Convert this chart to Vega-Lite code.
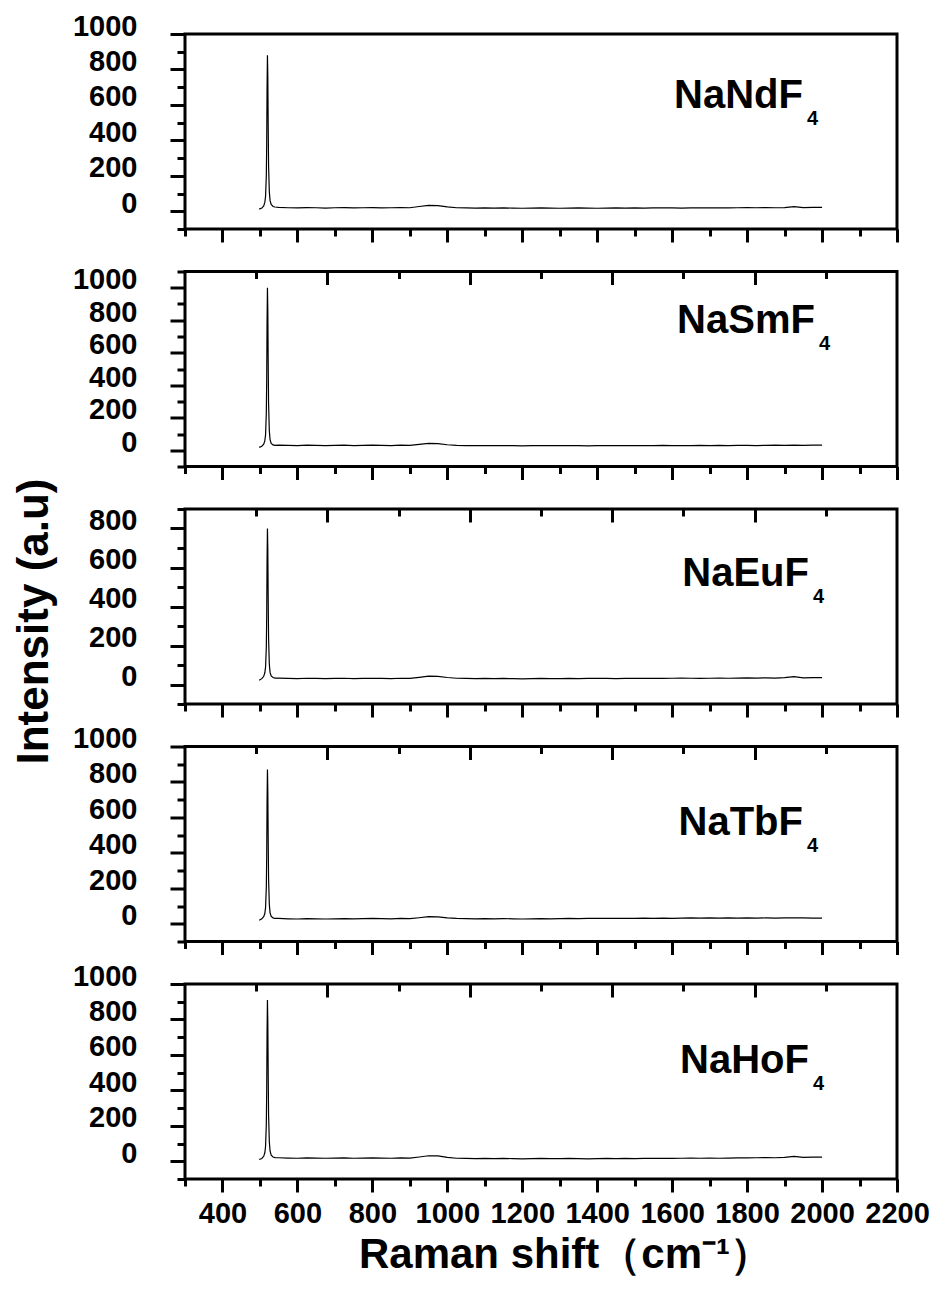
{
"$schema": "https://vega.github.io/schema/vega-lite/v6.json",
"background": "white",
"padding": {"left": 12, "top": 10, "right": 4, "bottom": 5},
"bounds": "flush",
"spacing": 42.5,
"title": {"text": "Intensity (a.u)", "orient": "left", "anchor": "middle", "font": "Liberation Sans", "fontSize": 44, "fontWeight": "bold", "color": "black", "offset": 14, "dx": 22},
"config": {
  "font": "Liberation Sans",
  "view": {"stroke": "black", "strokeWidth": 3},
  "axis": {"domain": false, "grid": false, "tickColor": "black", "tickWidth": 3, "labelColor": "black", "labelFont": "Liberation Sans", "labelFontWeight": "bold", "labelOverlap": false, "labelFlush": false, "labelBound": false}
},
"datasets": {
"nd": [
{"shift":498,"intensity":12},{"shift":505,"intensity":18},{"shift":510,"intensity":30},{"shift":513,"intensity":50},{"shift":515,"intensity":85},{"shift":517,"intensity":200},{"shift":518,"intensity":380},{"shift":519,"intensity":700},{"shift":520,"intensity":880},{"shift":521,"intensity":760},{"shift":522,"intensity":480},{"shift":523,"intensity":260},{"shift":525,"intensity":110},{"shift":527,"intensity":60},{"shift":530,"intensity":38},{"shift":535,"intensity":27},{"shift":540,"intensity":24},
{"shift":550,"intensity":22},{"shift":575,"intensity":20},{"shift":600,"intensity":19},{"shift":625,"intensity":21},{"shift":650,"intensity":20},{"shift":675,"intensity":18},{"shift":700,"intensity":20},{"shift":725,"intensity":21},{"shift":750,"intensity":19},{"shift":775,"intensity":20},
{"shift":800,"intensity":21},{"shift":825,"intensity":19},{"shift":850,"intensity":20},{"shift":875,"intensity":21},{"shift":900,"intensity":20},{"shift":925,"intensity":27},{"shift":950,"intensity":33},{"shift":975,"intensity":32},{"shift":1000,"intensity":25},{"shift":1025,"intensity":20},
{"shift":1050,"intensity":19},{"shift":1075,"intensity":18},{"shift":1100,"intensity":19},{"shift":1125,"intensity":18},{"shift":1150,"intensity":19},{"shift":1175,"intensity":18},{"shift":1200,"intensity":17},{"shift":1225,"intensity":18},{"shift":1250,"intensity":19},{"shift":1275,"intensity":18},
{"shift":1300,"intensity":17},{"shift":1325,"intensity":18},{"shift":1350,"intensity":19},{"shift":1375,"intensity":18},{"shift":1400,"intensity":17},{"shift":1425,"intensity":18},{"shift":1450,"intensity":19},{"shift":1475,"intensity":18},{"shift":1500,"intensity":19},{"shift":1525,"intensity":18},
{"shift":1550,"intensity":19},{"shift":1575,"intensity":20},{"shift":1600,"intensity":19},{"shift":1625,"intensity":18},{"shift":1650,"intensity":19},{"shift":1675,"intensity":20},{"shift":1700,"intensity":19},{"shift":1725,"intensity":20},{"shift":1750,"intensity":19},{"shift":1775,"intensity":20},
{"shift":1800,"intensity":21},{"shift":1825,"intensity":20},{"shift":1850,"intensity":21},{"shift":1875,"intensity":20},{"shift":1900,"intensity":21},{"shift":1925,"intensity":26},{"shift":1950,"intensity":21},{"shift":1975,"intensity":22},{"shift":2000,"intensity":22}
],
"sm": [
{"shift":498,"intensity":18},{"shift":505,"intensity":25},{"shift":510,"intensity":38},{"shift":513,"intensity":58},{"shift":515,"intensity":95},{"shift":517,"intensity":230},{"shift":518,"intensity":430},{"shift":519,"intensity":790},{"shift":520,"intensity":1000},{"shift":521,"intensity":860},{"shift":522,"intensity":540},{"shift":523,"intensity":290},{"shift":525,"intensity":120},{"shift":527,"intensity":65},{"shift":530,"intensity":42},{"shift":535,"intensity":33},{"shift":540,"intensity":30},
{"shift":550,"intensity":32},{"shift":575,"intensity":30},{"shift":600,"intensity":29},{"shift":625,"intensity":31},{"shift":650,"intensity":30},{"shift":675,"intensity":29},{"shift":700,"intensity":30},{"shift":725,"intensity":31},{"shift":750,"intensity":29},{"shift":775,"intensity":30},
{"shift":800,"intensity":31},{"shift":825,"intensity":30},{"shift":850,"intensity":29},{"shift":875,"intensity":31},{"shift":900,"intensity":30},{"shift":925,"intensity":36},{"shift":950,"intensity":42},{"shift":975,"intensity":41},{"shift":1000,"intensity":34},{"shift":1025,"intensity":30},
{"shift":1050,"intensity":29},{"shift":1075,"intensity":28},{"shift":1100,"intensity":29},{"shift":1125,"intensity":28},{"shift":1150,"intensity":29},{"shift":1175,"intensity":28},{"shift":1200,"intensity":27},{"shift":1225,"intensity":28},{"shift":1250,"intensity":29},{"shift":1275,"intensity":28},
{"shift":1300,"intensity":28},{"shift":1325,"intensity":29},{"shift":1350,"intensity":28},{"shift":1375,"intensity":27},{"shift":1400,"intensity":28},{"shift":1425,"intensity":29},{"shift":1450,"intensity":28},{"shift":1475,"intensity":29},{"shift":1500,"intensity":28},{"shift":1525,"intensity":29},
{"shift":1550,"intensity":29},{"shift":1575,"intensity":30},{"shift":1600,"intensity":29},{"shift":1625,"intensity":28},{"shift":1650,"intensity":29},{"shift":1675,"intensity":30},{"shift":1700,"intensity":29},{"shift":1725,"intensity":30},{"shift":1750,"intensity":29},{"shift":1775,"intensity":30},
{"shift":1800,"intensity":30},{"shift":1825,"intensity":29},{"shift":1850,"intensity":30},{"shift":1875,"intensity":31},{"shift":1900,"intensity":30},{"shift":1925,"intensity":31},{"shift":1950,"intensity":30},{"shift":1975,"intensity":31},{"shift":2000,"intensity":31}
],
"eu": [
{"shift":498,"intensity":22},{"shift":505,"intensity":30},{"shift":510,"intensity":42},{"shift":513,"intensity":60},{"shift":515,"intensity":90},{"shift":517,"intensity":190},{"shift":518,"intensity":350},{"shift":519,"intensity":640},{"shift":520,"intensity":800},{"shift":521,"intensity":690},{"shift":522,"intensity":440},{"shift":523,"intensity":240},{"shift":525,"intensity":105},{"shift":527,"intensity":62},{"shift":530,"intensity":44},{"shift":535,"intensity":36},{"shift":540,"intensity":33},
{"shift":550,"intensity":33},{"shift":575,"intensity":31},{"shift":600,"intensity":30},{"shift":625,"intensity":32},{"shift":650,"intensity":31},{"shift":675,"intensity":30},{"shift":700,"intensity":31},{"shift":725,"intensity":32},{"shift":750,"intensity":30},{"shift":775,"intensity":31},
{"shift":800,"intensity":32},{"shift":825,"intensity":31},{"shift":850,"intensity":30},{"shift":875,"intensity":32},{"shift":900,"intensity":31},{"shift":925,"intensity":37},{"shift":950,"intensity":43},{"shift":975,"intensity":42},{"shift":1000,"intensity":36},{"shift":1025,"intensity":32},
{"shift":1050,"intensity":31},{"shift":1075,"intensity":30},{"shift":1100,"intensity":31},{"shift":1125,"intensity":30},{"shift":1150,"intensity":31},{"shift":1175,"intensity":30},{"shift":1200,"intensity":29},{"shift":1225,"intensity":30},{"shift":1250,"intensity":31},{"shift":1275,"intensity":30},
{"shift":1300,"intensity":30},{"shift":1325,"intensity":31},{"shift":1350,"intensity":30},{"shift":1375,"intensity":31},{"shift":1400,"intensity":32},{"shift":1425,"intensity":31},{"shift":1450,"intensity":30},{"shift":1475,"intensity":31},{"shift":1500,"intensity":32},{"shift":1525,"intensity":31},
{"shift":1550,"intensity":32},{"shift":1575,"intensity":31},{"shift":1600,"intensity":32},{"shift":1625,"intensity":33},{"shift":1650,"intensity":32},{"shift":1675,"intensity":31},{"shift":1700,"intensity":32},{"shift":1725,"intensity":33},{"shift":1750,"intensity":32},{"shift":1775,"intensity":33},
{"shift":1800,"intensity":34},{"shift":1825,"intensity":33},{"shift":1850,"intensity":34},{"shift":1875,"intensity":33},{"shift":1900,"intensity":35},{"shift":1925,"intensity":40},{"shift":1950,"intensity":34},{"shift":1975,"intensity":35},{"shift":2000,"intensity":35}
],
"tb": [
{"shift":498,"intensity":20},{"shift":505,"intensity":28},{"shift":510,"intensity":40},{"shift":513,"intensity":58},{"shift":515,"intensity":92},{"shift":517,"intensity":205},{"shift":518,"intensity":380},{"shift":519,"intensity":690},{"shift":520,"intensity":870},{"shift":521,"intensity":750},{"shift":522,"intensity":475},{"shift":523,"intensity":255},{"shift":525,"intensity":110},{"shift":527,"intensity":62},{"shift":530,"intensity":42},{"shift":535,"intensity":33},{"shift":540,"intensity":30},
{"shift":550,"intensity":30},{"shift":575,"intensity":28},{"shift":600,"intensity":27},{"shift":625,"intensity":29},{"shift":650,"intensity":28},{"shift":675,"intensity":27},{"shift":700,"intensity":28},{"shift":725,"intensity":29},{"shift":750,"intensity":28},{"shift":775,"intensity":29},
{"shift":800,"intensity":30},{"shift":825,"intensity":29},{"shift":850,"intensity":28},{"shift":875,"intensity":30},{"shift":900,"intensity":29},{"shift":925,"intensity":34},{"shift":950,"intensity":40},{"shift":975,"intensity":39},{"shift":1000,"intensity":33},{"shift":1025,"intensity":30},
{"shift":1050,"intensity":29},{"shift":1075,"intensity":28},{"shift":1100,"intensity":29},{"shift":1125,"intensity":28},{"shift":1150,"intensity":29},{"shift":1175,"intensity":28},{"shift":1200,"intensity":27},{"shift":1225,"intensity":28},{"shift":1250,"intensity":29},{"shift":1275,"intensity":28},
{"shift":1300,"intensity":29},{"shift":1325,"intensity":30},{"shift":1350,"intensity":29},{"shift":1375,"intensity":30},{"shift":1400,"intensity":31},{"shift":1425,"intensity":30},{"shift":1450,"intensity":31},{"shift":1475,"intensity":30},{"shift":1500,"intensity":31},{"shift":1525,"intensity":32},
{"shift":1550,"intensity":31},{"shift":1575,"intensity":32},{"shift":1600,"intensity":31},{"shift":1625,"intensity":32},{"shift":1650,"intensity":33},{"shift":1675,"intensity":32},{"shift":1700,"intensity":33},{"shift":1725,"intensity":32},{"shift":1750,"intensity":33},{"shift":1775,"intensity":32},
{"shift":1800,"intensity":33},{"shift":1825,"intensity":32},{"shift":1850,"intensity":33},{"shift":1875,"intensity":32},{"shift":1900,"intensity":33},{"shift":1925,"intensity":34},{"shift":1950,"intensity":33},{"shift":1975,"intensity":32},{"shift":2000,"intensity":32}
],
"ho": [
{"shift":498,"intensity":10},{"shift":505,"intensity":16},{"shift":510,"intensity":28},{"shift":513,"intensity":48},{"shift":515,"intensity":85},{"shift":517,"intensity":210},{"shift":518,"intensity":395},{"shift":519,"intensity":725},{"shift":520,"intensity":910},{"shift":521,"intensity":785},{"shift":522,"intensity":495},{"shift":523,"intensity":265},{"shift":525,"intensity":110},{"shift":527,"intensity":58},{"shift":530,"intensity":34},{"shift":535,"intensity":24},{"shift":540,"intensity":21},
{"shift":550,"intensity":20},{"shift":575,"intensity":18},{"shift":600,"intensity":17},{"shift":625,"intensity":19},{"shift":650,"intensity":18},{"shift":675,"intensity":17},{"shift":700,"intensity":18},{"shift":725,"intensity":19},{"shift":750,"intensity":17},{"shift":775,"intensity":18},
{"shift":800,"intensity":19},{"shift":825,"intensity":18},{"shift":850,"intensity":17},{"shift":875,"intensity":19},{"shift":900,"intensity":18},{"shift":925,"intensity":24},{"shift":950,"intensity":31},{"shift":975,"intensity":30},{"shift":1000,"intensity":22},{"shift":1025,"intensity":17},
{"shift":1050,"intensity":16},{"shift":1075,"intensity":15},{"shift":1100,"intensity":16},{"shift":1125,"intensity":15},{"shift":1150,"intensity":16},{"shift":1175,"intensity":15},{"shift":1200,"intensity":14},{"shift":1225,"intensity":15},{"shift":1250,"intensity":16},{"shift":1275,"intensity":15},
{"shift":1300,"intensity":15},{"shift":1325,"intensity":16},{"shift":1350,"intensity":15},{"shift":1375,"intensity":14},{"shift":1400,"intensity":15},{"shift":1425,"intensity":16},{"shift":1450,"intensity":15},{"shift":1475,"intensity":16},{"shift":1500,"intensity":15},{"shift":1525,"intensity":16},
{"shift":1550,"intensity":16},{"shift":1575,"intensity":17},{"shift":1600,"intensity":16},{"shift":1625,"intensity":17},{"shift":1650,"intensity":18},{"shift":1675,"intensity":17},{"shift":1700,"intensity":18},{"shift":1725,"intensity":17},{"shift":1750,"intensity":18},{"shift":1775,"intensity":19},
{"shift":1800,"intensity":19},{"shift":1825,"intensity":20},{"shift":1850,"intensity":21},{"shift":1875,"intensity":20},{"shift":1900,"intensity":22},{"shift":1925,"intensity":28},{"shift":1950,"intensity":22},{"shift":1975,"intensity":23},{"shift":2000,"intensity":23}
]
},
"vconcat": [
{
  "width": 712, "height": 195,
  "layer": [
    {"data": {"name": "nd"}, "mark": {"type": "line", "color": "black", "strokeWidth": 1.2},
     "encoding": {
       "x": {"field": "shift", "type": "quantitative", "scale": {"domain": [300, 2200], "nice": false, "zero": false},
             "axis": {"orient": "bottom", "values": [400,600,800,1000,1200,1400,1600,1800,2000,2200], "labels": false, "title": null, "tickSize": 13}},
       "y": {"field": "intensity", "type": "quantitative", "scale": {"domain": [-100, 1000], "nice": false, "zero": false},
             "axis": {"orient": "left", "values": [0,200,400,600,800,1000], "format": "d", "labelFontSize": 29, "labelPadding": 33, "labelOffset": -8, "title": null, "tickSize": 15}}
     }},
    {"data": {"values": [{"sample": "NaNdF", "sub": "4"}]}, "mark": {"type": "text", "align": "right", "baseline": "alphabetic", "fontSize": 40, "fontWeight": "bold", "color": "black"},
     "encoding": {"x": {"datum": 1949, "type": "quantitative", "axis": {"orient": "bottom", "values": [300,500,700,900,1100,1300,1500,1700,1900,2100], "labels": false, "title": null, "tickSize": 7}},
                  "y": {"datum": 583, "type": "quantitative", "axis": {"orient": "left", "values": [-100,100,300,500,700,900], "labels": false, "title": null, "tickSize": 8}}, "text": {"field": "sample"}}},
    {"data": {"values": [{"sample": "NaNdF", "sub": "4"}]}, "mark": {"type": "text", "align": "left", "baseline": "alphabetic", "fontSize": 20, "fontWeight": "bold", "color": "black", "dx": 4, "dy": 17},
     "encoding": {"x": {"datum": 1949, "type": "quantitative", "axis": null}, "y": {"datum": 583, "type": "quantitative", "axis": null}, "text": {"field": "sub"}}}
  ],
  "resolve": {"axis": {"x": "independent", "y": "independent"}}
},
{
  "width": 712, "height": 195,
  "layer": [
    {"data": {"name": "sm"}, "mark": {"type": "line", "color": "black", "strokeWidth": 1.2},
     "encoding": {
       "x": {"field": "shift", "type": "quantitative", "scale": {"domain": [300, 2200], "nice": false, "zero": false},
             "axis": {"orient": "bottom", "values": [400,600,800,1000,1200,1400,1600,1800,2000,2200], "labels": false, "title": null, "tickSize": 13}},
       "y": {"field": "intensity", "type": "quantitative", "scale": {"domain": [-100, 1100], "nice": false, "zero": false},
             "axis": {"orient": "left", "values": [0,200,400,600,800,1000], "format": "d", "labelFontSize": 29, "labelPadding": 33, "labelOffset": -8, "title": null, "tickSize": 15}}
     }},
    {"data": {"values": [{"sample": "NaSmF", "sub": "4"}]}, "mark": {"type": "text", "align": "right", "baseline": "alphabetic", "fontSize": 40, "fontWeight": "bold", "color": "black"},
     "encoding": {"x": {"datum": 1981, "type": "quantitative", "axis": {"orient": "top", "values": [680,1060,1440,1820], "labels": false, "title": null, "tickSize": -13}},
                  "y": {"datum": 723, "type": "quantitative", "axis": {"orient": "left", "values": [-100,100,300,500,700,900,1100], "labels": false, "title": null, "tickSize": 8}}, "text": {"field": "sample"}}},
    {"data": {"values": [{"sample": "NaSmF", "sub": "4"}]}, "mark": {"type": "text", "align": "left", "baseline": "alphabetic", "fontSize": 20, "fontWeight": "bold", "color": "black", "dx": 4, "dy": 17},
     "encoding": {"x": {"datum": 1981, "type": "quantitative", "axis": {"orient": "bottom", "values": [300,500,700,900,1100,1300,1500,1700,1900,2100], "labels": false, "title": null, "tickSize": 7}}, "y": {"datum": 723, "type": "quantitative", "axis": null}, "text": {"field": "sub"}}},
    {"data": {"values": []}, "mark": {"type": "rule"},
     "encoding": {"x": {"field": "shift", "type": "quantitative", "axis": {"orient": "top", "values": [490,870,1250,1630,2010], "labels": false, "title": null, "tickSize": -7}}}}
  ],
  "resolve": {"axis": {"x": "independent", "y": "independent"}}
},
{
  "width": 712, "height": 195,
  "layer": [
    {"data": {"name": "eu"}, "mark": {"type": "line", "color": "black", "strokeWidth": 1.2},
     "encoding": {
       "x": {"field": "shift", "type": "quantitative", "scale": {"domain": [300, 2200], "nice": false, "zero": false},
             "axis": {"orient": "bottom", "values": [400,600,800,1000,1200,1400,1600,1800,2000,2200], "labels": false, "title": null, "tickSize": 13}},
       "y": {"field": "intensity", "type": "quantitative", "scale": {"domain": [-100, 900], "nice": false, "zero": false},
             "axis": {"orient": "left", "values": [0,200,400,600,800], "format": "d", "labelFontSize": 29, "labelPadding": 33, "labelOffset": -8, "title": null, "tickSize": 15}}
     }},
    {"data": {"values": [{"sample": "NaEuF", "sub": "4"}]}, "mark": {"type": "text", "align": "right", "baseline": "alphabetic", "fontSize": 40, "fontWeight": "bold", "color": "black"},
     "encoding": {"x": {"datum": 1965, "type": "quantitative", "axis": {"orient": "top", "values": [680,1060,1440,1820], "labels": false, "title": null, "tickSize": -13}},
                  "y": {"datum": 503, "type": "quantitative", "axis": {"orient": "left", "values": [-100,100,300,500,700,900], "labels": false, "title": null, "tickSize": 8}}, "text": {"field": "sample"}}},
    {"data": {"values": [{"sample": "NaEuF", "sub": "4"}]}, "mark": {"type": "text", "align": "left", "baseline": "alphabetic", "fontSize": 20, "fontWeight": "bold", "color": "black", "dx": 4, "dy": 17},
     "encoding": {"x": {"datum": 1965, "type": "quantitative", "axis": {"orient": "bottom", "values": [300,500,700,900,1100,1300,1500,1700,1900,2100], "labels": false, "title": null, "tickSize": 7}}, "y": {"datum": 503, "type": "quantitative", "axis": null}, "text": {"field": "sub"}}},
    {"data": {"values": []}, "mark": {"type": "rule"},
     "encoding": {"x": {"field": "shift", "type": "quantitative", "axis": {"orient": "top", "values": [490,870,1250,1630,2010], "labels": false, "title": null, "tickSize": -7}}}}
  ],
  "resolve": {"axis": {"x": "independent", "y": "independent"}}
},
{
  "width": 712, "height": 195,
  "layer": [
    {"data": {"name": "tb"}, "mark": {"type": "line", "color": "black", "strokeWidth": 1.2},
     "encoding": {
       "x": {"field": "shift", "type": "quantitative", "scale": {"domain": [300, 2200], "nice": false, "zero": false},
             "axis": {"orient": "bottom", "values": [400,600,800,1000,1200,1400,1600,1800,2000,2200], "labels": false, "title": null, "tickSize": 13}},
       "y": {"field": "intensity", "type": "quantitative", "scale": {"domain": [-100, 1000], "nice": false, "zero": false},
             "axis": {"orient": "left", "values": [0,200,400,600,800,1000], "format": "d", "labelFontSize": 29, "labelPadding": 33, "labelOffset": -8, "title": null, "tickSize": 15}}
     }},
    {"data": {"values": [{"sample": "NaTbF", "sub": "4"}]}, "mark": {"type": "text", "align": "right", "baseline": "alphabetic", "fontSize": 40, "fontWeight": "bold", "color": "black"},
     "encoding": {"x": {"datum": 1949, "type": "quantitative", "axis": {"orient": "top", "values": [680,1060,1440,1820], "labels": false, "title": null, "tickSize": -13}},
                  "y": {"datum": 498, "type": "quantitative", "axis": {"orient": "left", "values": [-100,100,300,500,700,900], "labels": false, "title": null, "tickSize": 8}}, "text": {"field": "sample"}}},
    {"data": {"values": [{"sample": "NaTbF", "sub": "4"}]}, "mark": {"type": "text", "align": "left", "baseline": "alphabetic", "fontSize": 20, "fontWeight": "bold", "color": "black", "dx": 4, "dy": 17},
     "encoding": {"x": {"datum": 1949, "type": "quantitative", "axis": {"orient": "bottom", "values": [300,500,700,900,1100,1300,1500,1700,1900,2100], "labels": false, "title": null, "tickSize": 7}}, "y": {"datum": 498, "type": "quantitative", "axis": null}, "text": {"field": "sub"}}},
    {"data": {"values": []}, "mark": {"type": "rule"},
     "encoding": {"x": {"field": "shift", "type": "quantitative", "axis": {"orient": "top", "values": [490,870,1250,1630,2010], "labels": false, "title": null, "tickSize": -7}}}}
  ],
  "resolve": {"axis": {"x": "independent", "y": "independent"}}
},
{
  "width": 712, "height": 195,
  "layer": [
    {"data": {"name": "ho"}, "mark": {"type": "line", "color": "black", "strokeWidth": 1.2},
     "encoding": {
       "x": {"field": "shift", "type": "quantitative", "scale": {"domain": [300, 2200], "nice": false, "zero": false},
             "axis": {"orient": "bottom", "values": [400,600,800,1000,1200,1400,1600,1800,2000,2200], "format": "d", "labelFontSize": 29, "labelPadding": 7, "tickSize": 13,
                      "title": "Raman shift（cm⁻¹）", "titleFont": "Liberation Sans", "titleFontSize": 42, "titleFontWeight": "bold", "titleColor": "black", "titlePadding": 6, "titleX": 380}},
       "y": {"field": "intensity", "type": "quantitative", "scale": {"domain": [-100, 1000], "nice": false, "zero": false},
             "axis": {"orient": "left", "values": [0,200,400,600,800,1000], "format": "d", "labelFontSize": 29, "labelPadding": 33, "labelOffset": -8, "title": null, "tickSize": 15}}
     }},
    {"data": {"values": [{"sample": "NaHoF", "sub": "4"}]}, "mark": {"type": "text", "align": "right", "baseline": "alphabetic", "fontSize": 40, "fontWeight": "bold", "color": "black"},
     "encoding": {"x": {"datum": 1965, "type": "quantitative", "axis": {"orient": "top", "values": [680,1060,1440,1820], "labels": false, "title": null, "tickSize": -13}},
                  "y": {"datum": 498, "type": "quantitative", "axis": {"orient": "left", "values": [-100,100,300,500,700,900], "labels": false, "title": null, "tickSize": 8}}, "text": {"field": "sample"}}},
    {"data": {"values": [{"sample": "NaHoF", "sub": "4"}]}, "mark": {"type": "text", "align": "left", "baseline": "alphabetic", "fontSize": 20, "fontWeight": "bold", "color": "black", "dx": 4, "dy": 17},
     "encoding": {"x": {"datum": 1965, "type": "quantitative", "axis": {"orient": "bottom", "values": [300,500,700,900,1100,1300,1500,1700,1900,2100], "labels": false, "title": null, "tickSize": 7}}, "y": {"datum": 498, "type": "quantitative", "axis": null}, "text": {"field": "sub"}}},
    {"data": {"values": []}, "mark": {"type": "rule"},
     "encoding": {"x": {"field": "shift", "type": "quantitative", "axis": {"orient": "top", "values": [490,870,1250,1630,2010], "labels": false, "title": null, "tickSize": -7}}}}
  ],
  "resolve": {"axis": {"x": "independent", "y": "independent"}}
}
]
}
